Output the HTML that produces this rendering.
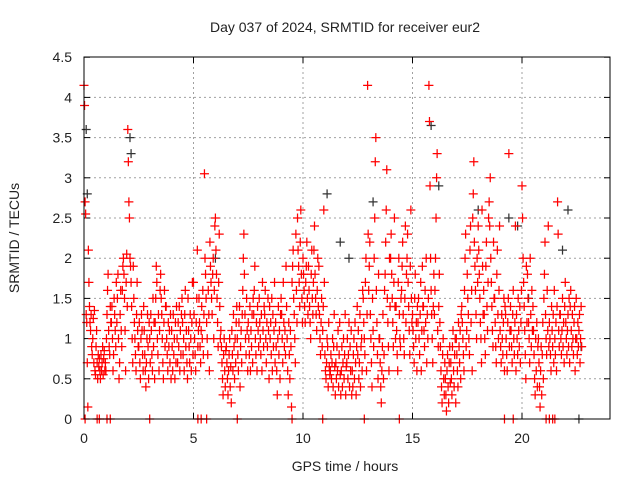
<!DOCTYPE html>
<html><head><meta charset="utf-8"><style>
body{margin:0;background:#fff;width:640px;height:480px;overflow:hidden}
svg{font-family:"Liberation Sans",sans-serif}
</style></head><body>
<svg id="chart" width="640" height="480" xmlns="http://www.w3.org/2000/svg">
<text x="345" y="32" font-size="14" text-anchor="middle" fill="#222">Day 037 of 2024, SRMTID for receiver eur2</text>
<text transform="translate(19,238) rotate(-90)" font-size="14" text-anchor="middle" fill="#222">SRMTID / TECUs</text>
<text x="345" y="471" font-size="14" text-anchor="middle" fill="#222">GPS time / hours</text>
<g id="grid"></g>
<g id="ticks"></g>
<g id="black"></g>
<g id="red"></g>
<rect x="84" y="57" width="526" height="362" fill="none" stroke="#000" stroke-width="1"/>
</svg>
<script>
const xTicks=[0,5,10,15,20];
const yTicks=[0,0.5,1,1.5,2,2.5,3,3.5,4,4.5];
const yTickLabels=["0","0.5","1","1.5","2","2.5","3","3.5","4","4.5"];
const binStarts=[0,0.25,0.5,0.75,1,1.25,1.5,1.75,2,2.25,2.5,2.75,3,3.25,3.5,3.75,4,4.25,4.5,4.75,5,5.25,5.5,5.75,6,6.25,6.5,6.75,7,7.25,7.5,7.75,8,8.25,8.5,8.75,9,9.25,9.5,9.75,10,10.25,10.5,10.75,11,11.25,11.5,11.75,12,12.25,12.5,12.75,13,13.25,13.5,13.75,14,14.25,14.5,14.75,15,15.25,15.5,15.75,16,16.25,16.5,16.75,17,17.25,17.5,17.75,18,18.25,18.5,18.75,19,19.25,19.5,19.75,20,20.25,20.5,20.75,21,21.25,21.5,21.75,22,22.25,22.5];
const redValues=[
"4.15 3.9 2.7 2.55 1.3 1.2 0.7 0.15 2.1 1.7","1.4 1.2 1.1 1.3 0.9 0.8 1.0 1.25 0.7 1.35","0.6 0.55 0.9 1.1 0.7 0.5 0.8 0.65 0.75 0.6","0.5 0.8 0.6 0.7 0.9 0.55 0.75 0.85 0.6 0.7",
"0.6 1.0 1.3 1.6 1.8 1.1 0.9 0.8 1.4 1.2","1.2 1.4 1.0 0.6 0.8 1.5 1.3 1.1 0.9 1.7","1.2 1.5 1.8 1.0 0.5 0.7 1.3 1.6 1.1 0.9","1.6 1.9 2.0 1.8 1.5 1.1 0.6 1.7 2.05 1.4",
"3.6 3.2 2.7 2.5 2.0 1.9 1.7 1.4 1.0 0.7","1.9 1.5 1.2 1.0 0.8 0.6 1.3 1.7 1.1 0.9","0.9 1.2 0.7 0.5 1.0 1.3 1.1 0.8 0.6 1.4","1.1 0.8 0.6 0.4 0.7 1.0 1.3 0.9 0.5 1.2",
"1.0 0.7 1.3 1.1 0.8 0.6 1.5 0.9 1.2 0.5","1.2 1.5 1.9 1.7 1.0 0.8 1.3 0.6 1.1 1.6","1.8 1.5 1.3 1.0 0.7 0.5 1.2 1.6 0.9 1.4","1.4 1.0 0.8 0.6 1.2 0.9 1.1 0.7 1.3 0.5",
"1.1 0.9 0.6 1.3 0.8 1.0 0.5 1.2 0.7 1.4","1.0 0.7 1.2 0.9 1.4 0.6 1.1 0.8 1.3 1.5","1.2 0.8 1.0 0.6 1.3 1.6 0.9 1.1 0.7 0.5","1.5 1.1 0.9 0.7 1.3 1.0 0.6 1.2 1.7 0.8",
"1.7 1.3 1.0 0.8 0.6 1.2 1.5 2.1 0.9 1.1","1.5 1.2 0.9 0.7 1.1 1.4 1.0 1.6 0.8 1.3","3.05 2.0 1.8 1.5 1.2 1.0 0.8 1.6 1.3 0.6","2.2 1.9 1.7 1.5 1.3 1.8 2.0 1.0 1.6 2.4",
"2.5 2.1 1.8 1.5 1.2 0.9 1.7 2.3 1.4 1.0","1.1 0.9 0.7 0.5 0.3 0.8 1.0 0.6 0.4 0.85","0.9 0.7 0.5 0.3 0.6 0.8 1.0 0.4 0.65 0.2","1.1 0.8 0.6 1.3 0.9 0.5 1.0 0.7 1.2 1.4",
"1.0 0.8 0.6 1.2 1.4 0.4 0.9 1.1 0.7 1.3","1.6 2.0 2.3 1.8 1.3 1.0 0.8 1.5 1.1 0.6","1.2 1.0 0.8 1.4 0.6 1.1 0.9 1.3 0.7 1.5","1.3 1.6 1.9 1.0 0.8 1.2 0.6 1.4 1.1 0.9",
"1.5 1.2 1.0 0.8 1.3 0.6 1.7 1.1 0.9 1.4","1.3 1.6 1.0 0.7 1.2 0.9 1.5 1.1 0.5 1.4","1.0 1.2 0.8 1.5 0.6 1.3 0.9 1.1 1.7 0.7","1.2 0.9 0.6 0.3 1.0 1.4 0.8 1.1 0.5 1.3",
"1.5 1.3 1.0 0.7 1.7 1.2 0.9 1.1 0.8 1.9","1.4 1.0 0.6 0.3 1.2 0.8 0.5 1.1 0.9 0.15","1.7 1.9 2.1 1.5 1.3 1.0 0.7 2.3 1.6 1.2","2.5 2.1 1.9 1.7 1.4 2.2 2.6 1.8 1.5 1.2",
"2.0 1.8 1.6 1.4 1.2 1.7 1.9 2.2 1.5 1.3","1.9 1.6 1.4 1.2 1.0 1.8 2.1 1.5 1.3 1.7","2.1 2.4 1.8 1.5 1.3 1.1 1.6 2.0 1.4 1.9","1.3 1.0 0.8 1.2 1.5 0.9 1.1 1.4 2.6 1.7",
"0.8 0.6 0.5 0.7 1.0 0.9 0.4 1.2 0.65 0.55","0.6 0.8 0.5 0.7 1.0 0.4 0.9 1.3 0.65 0.3","0.7 0.5 0.9 0.6 1.1 0.4 0.8 1.2 0.55 0.3","0.6 0.9 0.4 0.7 1.0 0.5 0.8 1.3 0.3 0.65",
"0.7 1.0 0.5 0.8 1.2 0.4 0.9 0.6 1.1 0.3","0.6 0.4 0.8 1.0 0.5 1.2 0.7 0.3 0.9 1.4","0.8 1.1 0.5 0.7 1.3 0.4 0.9 1.0 0.6 1.6","1.5 1.2 1.0 0.8 1.7 2.0 0.6 1.3 4.15 2.3",
"1.6 1.9 2.2 1.3 1.0 0.7 0.4 1.5 1.1 0.9","2.0 2.5 3.2 3.5 1.6 1.2 0.8 0.5 1.8 1.0","1.0 0.7 0.4 0.2 0.6 0.9 1.3 0.5 0.8 1.6","1.8 2.2 2.6 3.1 1.5 1.2 0.9 0.6 2.0 1.4",
"2.0 2.3 1.8 1.5 1.2 0.9 1.7 2.5 1.4 1.0","1.4 1.1 0.8 0.6 1.7 2.0 1.3 1.0 0.9 1.5","1.6 1.9 2.2 1.3 1.0 0.8 1.5 2.4 1.2 1.8","2.0 2.3 1.7 1.4 1.1 0.8 1.9 2.6 1.5 1.2",
"1.3 1.1 0.9 0.7 1.5 1.8 1.0 1.2 0.6 1.4","1.2 1.5 1.0 0.8 1.3 1.7 0.6 1.1 1.9 1.4","1.4 1.1 0.9 1.6 1.2 2.0 0.7 1.3 1.0 1.5","4.15 3.7 2.9 2.0 1.6 1.3 1.0 0.7 1.4 1.8",
"1.3 1.6 2.0 2.5 3.0 3.3 1.1 0.9 1.4 1.8","1.2 0.9 0.6 0.4 0.2 0.8 1.0 0.5 0.3 0.7","0.5 0.3 0.1 0.6 0.8 0.4 0.2 0.7 0.9 0.45","0.7 0.5 0.3 0.9 1.1 0.6 0.4 0.8 1.0 0.2",
"1.0 0.8 0.6 0.4 1.2 0.9 0.7 1.1 0.5 1.3","1.4 1.2 1.0 0.8 0.6 1.6 2.0 2.3 0.9 1.1","1.8 1.5 1.3 1.0 0.8 2.1 2.4 1.2 1.6 0.6","2.5 2.8 3.2 2.2 1.9 1.6 1.3 1.0 2.0 1.7",
"2.4 2.1 1.8 1.5 1.2 1.0 0.7 2.6 1.9 1.3","1.6 1.3 1.0 0.8 1.9 2.2 1.4 1.1 1.7 2.5","2.7 2.4 3.0 2.0 1.7 1.4 1.1 0.9 2.2 1.5","1.5 1.2 0.9 0.7 1.8 2.1 1.3 1.0 1.6 2.4",
"1.1 0.9 0.7 1.3 1.0 0.8 1.2 1.5 0.6 1.4","1.3 1.0 0.8 0.6 1.2 1.5 3.3 0.9 1.1 1.4","1.1 0.9 0.7 1.3 1.6 1.0 0.8 1.2 2.4 0.6","1.3 1.0 0.8 1.5 1.1 0.9 1.4 0.7 1.2 1.6",
"2.9 2.5 2.0 1.7 1.4 1.1 0.8 0.5 1.9 1.2","1.8 1.5 1.2 1.0 0.7 2.0 1.3 0.9 1.6 1.1","1.4 1.1 0.8 0.5 0.3 1.0 0.6 1.2 0.4 0.9","1.0 0.7 0.4 0.15 0.6 0.9 0.3 0.8 1.2 0.5",
"1.5 1.8 2.2 1.3 1.0 0.8 1.6 1.1 2.4 0.9","1.2 1.0 0.8 0.6 1.4 1.1 0.9 1.3 0.7 1.6","1.0 0.8 1.2 0.6 1.4 2.7 2.3 1.1 0.9 1.3","1.3 1.0 0.8 1.1 1.5 0.9 1.2 0.7 1.4 1.7",
"1.2 1.0 0.8 1.1 1.3 0.9 1.5 0.7 1.4 1.6","1.1 0.9 1.3 1.0 0.8 1.2 1.4 0.6 1.0 1.5","1.0 0.8 1.2 0.9 1.1 1.3 0.7 1.0 1.4 0.9"];
const zeroTimes=[0.05,0.6,0.7,1.05,1.2,3.0,5.2,5.35,5.6,7.0,9.5,10.9,12.8,14.4,19.2,19.6,21.1,21.25,21.4,21.5];
const blackTimes=[0.1,0.15,2.1,2.15,6.0,11.1,11.7,12.1,13.2,15.85,16.2,18.0,19.4,19.8,20.3,21.85,22.1,22.6,22.7];
const blackValues=[3.6,2.8,3.5,3.3,2.0,2.8,2.2,2.0,2.7,3.65,2.9,2.6,2.5,2.4,1.5,2.1,2.6,0.0,0.9];
const X=t=>84+t*21.9, Y=v=>419-v*80.4;
const NS="http://www.w3.org/2000/svg";
const grid=document.getElementById('grid'),ticks=document.getElementById('ticks');
function mk(tag,attrs,parent){const e=document.createElementNS(NS,tag);for(const k in attrs)e.setAttribute(k,attrs[k]);parent.appendChild(e);return e;}
yTicks.forEach((v,i)=>{
  if(i>0&&i<yTicks.length-1){const g=mk('line',{x1:84,x2:610,y1:Y(v),y2:Y(v),stroke:'#a0a0a0','stroke-dasharray':'2,3'},grid);
  
  }
  const t=mk('line',{x1:84,x2:90,y1:Y(v),y2:Y(v),stroke:'#000'},ticks);
  
  
  const t2=mk('line',{x1:604,x2:610,y1:Y(v),y2:Y(v),stroke:'#000'},ticks);
  
  
  const l=mk('text',{x:72,y:Y(v)+5,'font-size':14,'text-anchor':'end',fill:'#222'},ticks);l.textContent=yTickLabels[i];
  
  
});
xTicks.forEach(t=>{
  if(t>0){const g=mk('line',{x1:X(t),x2:X(t),y1:57,y2:419,stroke:'#a0a0a0','stroke-dasharray':'2,3'},grid);
  
  }
  const k=mk('line',{x1:X(t),x2:X(t),y1:413,y2:419,stroke:'#000'},ticks);
  
  
  const k2=mk('line',{x1:X(t),x2:X(t),y1:57,y2:63,stroke:'#000'},ticks);
  
  
  const l=mk('text',{x:X(t),y:443,'font-size':14,'text-anchor':'middle',fill:'#222'},ticks);l.textContent=String(t);
  
  
});
function plus(t,v,col,parent,name){
  const x=X(t),y=Y(v);
  const p=mk('path',{d:`M${x-4.5},${y}h9M${x},${y-4.5}v9`,stroke:col,'stroke-width':1.25,fill:'none'},parent);
  
  
}
const blk=document.getElementById('black'),red=document.getElementById('red');
blackTimes.forEach((t,i)=>plus(t,blackValues[i],'#333',blk,'black-point'));
binStarts.forEach((b,i)=>{
  redValues[i].split(' ').map(Number).forEach((v,j)=>plus(b+j*0.025,v,'#ff0000',red,'red-point'));
});
zeroTimes.forEach(t=>plus(t,0,'#ff0000',red,'red-zero-point'));
</script>
</body></html>
